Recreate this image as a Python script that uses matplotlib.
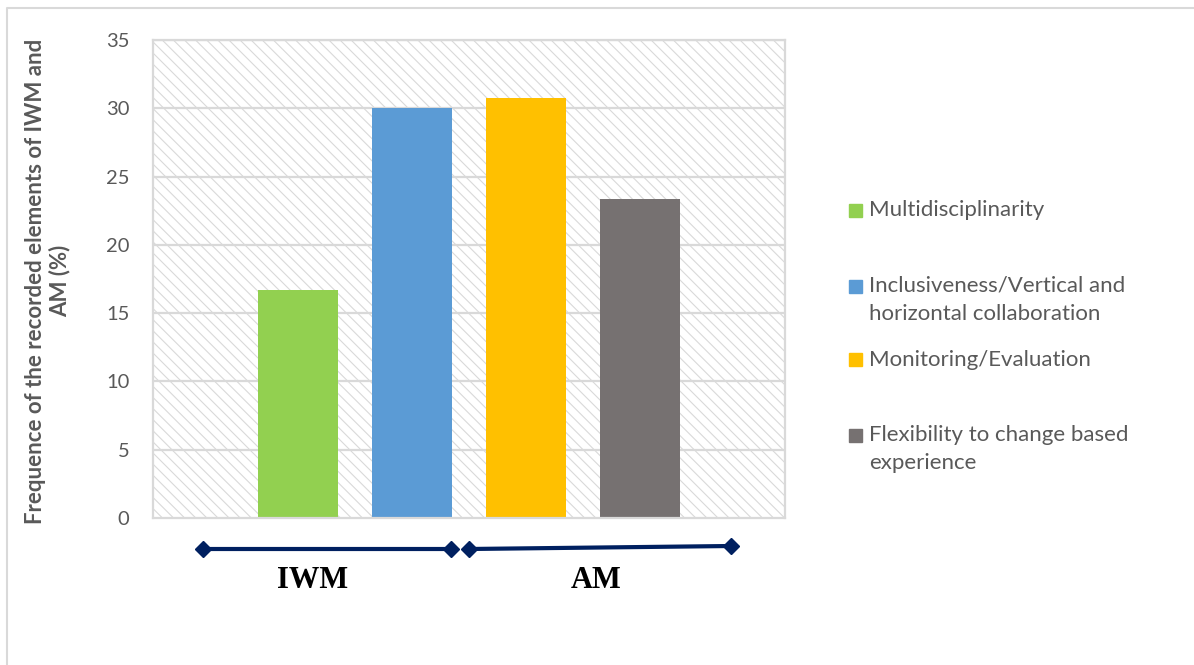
import matplotlib
matplotlib.use("Agg")
import matplotlib.pyplot as plt
from matplotlib.patches import Rectangle
from matplotlib.lines import Line2D

# ---- data ----
series_names = ["Multidisciplinarity",
                "Inclusiveness/Vertical and\nhorizontal collaboration",
                "Monitoring/Evaluation",
                "Flexibility to change based\nexperience"]
values = [16.67, 30.0, 30.75, 23.35]
colors = ["#92D050", "#5B9BD5", "#FFC000", "#767171"]
yticks = [0, 5, 10, 15, 20, 25, 30, 35]
group_labels = ["IWM", "AM"]
ylabel = "Frequence of the recorded elements of IWM and\nAM (%)"

W, H = 1194, 665
plt.rcParams['hatch.linewidth'] = 0.8
plt.rcParams['hatch.color'] = '#d9d9d9'
fig = plt.figure(figsize=(W / 100, H / 100), dpi=100)

def fx(px):
    return px / W

def fy(py):
    return 1 - py / H

txt = "#595959"
grid_c = "#d9d9d9"

ax = fig.add_axes([fx(153), fy(518), fx(785) - fx(153), fy(40) - fy(518)])
ax.set_xlim(0, 1)
ax.set_ylim(0, 35)

# hatched plot area
bg = Rectangle((0, 0), 1, 1, transform=ax.transAxes, facecolor="white",
               edgecolor="#d9d9d9", hatch="\\\\\\", linewidth=0, zorder=0)
ax.add_patch(bg)

for t in yticks[1:]:
    ax.axhline(t, color=grid_c, lw=1.6, zorder=1)

spacing = 0.18
width = 0.127
n = len(values)
for i, (v, c) in enumerate(zip(values, colors)):
    ax.bar(0.5 + (i - (n - 1) / 2) * spacing, v, width=width, color=c, zorder=2)

ax.set_yticks(yticks)
ax.set_yticklabels([str(t) for t in yticks], fontsize=14.5, color=txt, family="Lato")
ax.tick_params(axis="y", length=0, pad=17)
ax.set_xticks([])
for s in ax.spines.values():
    s.set_color(grid_c)
    s.set_linewidth(1.6)
    s.set_zorder(3)

fig.text(fx(48), fy(281), ylabel, rotation=90, ha="center", va="center",
         fontsize=16, fontweight="bold", color=txt, family="Lato",
         linespacing=1.15)

# legend (manual)
leg_y = [210, 286, 360, 435]
line_gap = 28
for name, c, y in zip(series_names, colors, leg_y):
    fig.patches.append(Rectangle((fx(849), fy(y + 6.5)), fx(13), fy(0) - fy(13),
                                 transform=fig.transFigure, color=c))
    for k, line in enumerate(name.split("\n")):
        fig.text(fx(869), fy(y + k * line_gap), line, ha="left", va="center",
                 fontsize=16, color=txt, family="Lato")

# decorative group lines
navy = "#002060"
fig.add_artist(Line2D([fx(203), fx(451)], [fy(549), fy(549)], color=navy, lw=3,
                      marker="D", markersize=8, transform=fig.transFigure))
fig.add_artist(Line2D([fx(469), fx(731)], [fy(549), fy(546)], color=navy, lw=3,
                      marker="D", markersize=8, transform=fig.transFigure))
fig.text(fx(313), fy(580), group_labels[0], ha="center", va="center",
         fontsize=22, fontweight="bold", family="Liberation Serif", color="black")
fig.text(fx(596), fy(580), group_labels[1], ha="center", va="center",
         fontsize=22, fontweight="bold", family="Liberation Serif", color="black")

# outer border (left and top)
fig.add_artist(Line2D([fx(7), fx(7), fx(1194)], [fy(665), fy(8), fy(8)],
                      color=grid_c, lw=1.5, transform=fig.transFigure))

fig.savefig("out.png", dpi=100)
